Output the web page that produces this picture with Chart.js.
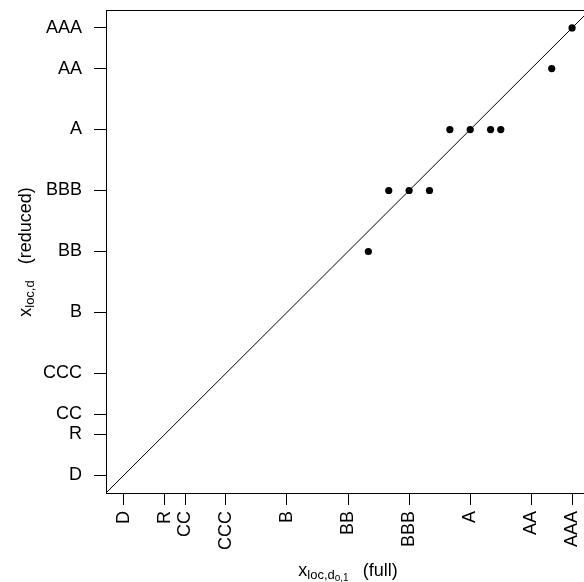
<!DOCTYPE html>
<html>
<head>
<meta charset="utf-8">
<script src="https://cdn.jsdelivr.net/npm/chart.js@4.4.1/dist/chart.umd.min.js"></script>
<style>
  html, body { margin: 0; padding: 0; background: #fff; overflow: hidden; }
  #wrap { width: 584px; height: 582px; overflow: hidden; }
</style>
</head>
<body>
<div id="wrap"><canvas id="myChart" width="590" height="582"></canvas></div>
<script>
// rating grades and where they sit on both axes
const ratings = ['D', 'R', 'CC', 'CCC', 'B', 'BB', 'BBB', 'A', 'AA', 'AAA'];
const ratingPos = [0, 2, 3, 5, 8, 11, 14, 17, 20, 22];

// x_loc (full) vs x_loc (reduced)
const fullX = [12, 13, 14, 15, 16, 17, 18, 18.5, 21, 22];
const reducedY = [11, 14, 14, 14, 17, 17, 17, 17, 20, 22];

const axisMin = -0.88;
const axisMax = 22.88;

const FONT = 'Liberation Sans, Arial, Helvetica, sans-serif';

function ratingLabel(v) {
  const i = ratingPos.indexOf(v);
  return i >= 0 ? ratings[i] : '';
}

// draws "x" with subscripts and a trailing word, centred on (cx, cy)
function drawRich(ctx, parts, cx, cy, angle) {
  ctx.save();
  ctx.translate(cx, cy);
  ctx.rotate(angle);
  let total = 0;
  parts.forEach(p => {
    ctx.font = p.size + 'px ' + FONT;
    p.w = ctx.measureText(p.text).width;
    total += p.w + (p.gap || 0);
  });
  let x = -total / 2;
  ctx.fillStyle = '#000';
  ctx.textBaseline = 'alphabetic';
  ctx.textAlign = 'left';
  parts.forEach(p => {
    ctx.font = p.size + 'px ' + FONT;
    x += (p.gap || 0);
    ctx.fillText(p.text, x, p.dy || 0);
    x += p.w;
  });
  ctx.restore();
}

const boxPlugin = {
  id: 'box',
  afterDraw(chart) {
    const a = chart.chartArea;
    const ctx = chart.ctx;
    ctx.save();
    ctx.strokeStyle = '#000';
    ctx.lineWidth = 1;
    ctx.strokeRect(Math.round(a.left) + 0.5, Math.round(a.top) + 0.5,
      Math.round(a.right - a.left), Math.round(a.bottom - a.top));
    ctx.restore();

    // axis titles
    drawRich(ctx, [
      { text: 'x', size: 18 },
      { text: 'loc,d', size: 13, dy: 3 },
      { text: 'o,1', size: 10, dy: 5 },
      { text: '(full)', size: 18, gap: 14 }
    ], 348, 576, 0);
    drawRich(ctx, [
      { text: 'x', size: 18 },
      { text: 'loc,d', size: 13, dy: 3 },
      { text: '(reduced)', size: 18, gap: 16 }
    ], 31, 252, -Math.PI / 2);
  }
};

const tickSetup = scale => { scale.ticks = ratingPos.map(v => ({ value: v })); };

const config = {
  data: {
    datasets: [
      {
        type: 'scatter',
        data: fullX.map((x, i) => ({ x: x, y: reducedY[i] })),
        pointRadius: 3.6,
        pointBackgroundColor: '#000',
        pointBorderColor: '#000',
        pointBorderWidth: 0
      },
      {
        type: 'line',
        data: [{ x: axisMin, y: axisMin }, { x: axisMax, y: axisMax }],
        borderColor: '#000',
        borderWidth: 1,
        pointRadius: 0,
        fill: false
      }
    ]
  },
  options: {
    responsive: false,
    animation: false,
    devicePixelRatio: 1,
    layout: { autoPadding: false, padding: { top: 10, left: 0, right: 0, bottom: 0 } },
    plugins: { legend: { display: false }, tooltip: { enabled: false } },
    scales: {
      x: {
        type: 'linear',
        min: axisMin,
        max: axisMax,
        afterBuildTicks: tickSetup,
        afterFit: s => { s.height = 89; s.paddingLeft = 0; s.paddingRight = 0; },
        border: { display: false },
        grid: { drawOnChartArea: false, drawTicks: true, tickLength: 12, color: '#000' },
        ticks: {
          autoSkip: false,
          minRotation: 90,
          maxRotation: 90,
          padding: 6,
          color: '#000',
          font: { family: FONT, size: 18 },
          callback: ratingLabel
        }
      },
      y: {
        type: 'linear',
        min: axisMin,
        max: axisMax,
        afterBuildTicks: tickSetup,
        afterFit: s => { s.width = 106; s.paddingTop = 0; s.paddingBottom = 0; },
        border: { display: false },
        grid: { drawOnChartArea: false, drawTicks: true, tickLength: 12, color: '#000' },
        ticks: {
          autoSkip: false,
          padding: 12,
          color: '#000',
          font: { family: FONT, size: 18 },
          callback: ratingLabel
        }
      }
    }
  },
  plugins: [boxPlugin]
};

const myChart = new Chart(document.getElementById('myChart'), config);
</script>
</body>
</html>
